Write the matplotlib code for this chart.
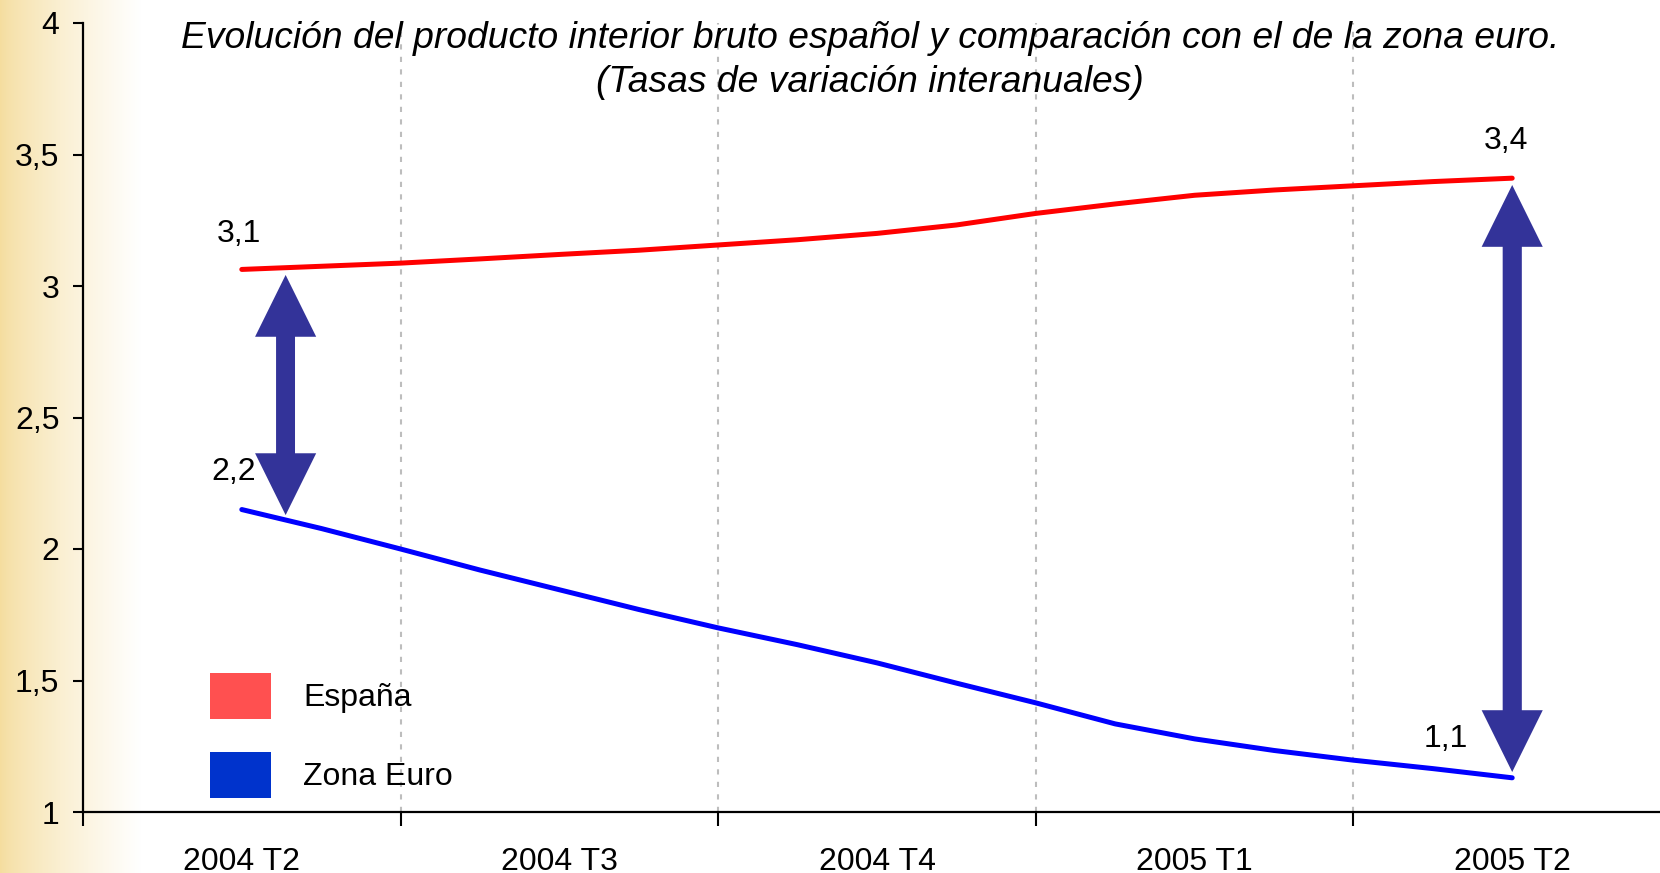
import numpy as np
import matplotlib
matplotlib.use("Agg")
import matplotlib.pyplot as plt
from matplotlib.patches import Patch

# ---------------- data ----------------
categories = ["2004 T2", "2004 T3", "2004 T4", "2005 T1", "2005 T2"]
# readings every quarter of a category step
x_pos = [0, 0.25, 0.5, 0.75, 1.0, 1.25, 1.5, 1.75, 2.0, 2.25, 2.5, 2.75, 3.0, 3.25, 3.5, 3.75, 4.0]
espana = [3.063, 3.075, 3.087, 3.103, 3.12, 3.136, 3.156, 3.176, 3.20, 3.232, 3.276, 3.312,
          3.345, 3.365, 3.381, 3.397, 3.41]
zona_euro = [2.150, 2.078, 2.0, 1.92, 1.845, 1.77, 1.70, 1.636, 1.567, 1.49, 1.415, 1.335,
             1.278, 1.234, 1.197, 1.165, 1.13]
y_ticks = [1, 1.5, 2, 2.5, 3, 3.5, 4]
y_tick_labels = ["1", "1,5", "2", "2,5", "3", "3,5", "4"]
value_labels = ["3,1", "2,2", "3,4", "1,1"]
value_label_pos = [(-0.01, 3.197), (-0.025, 2.292), (3.98, 3.551), (3.79, 1.277)]
# arrows: (x, y_top_tip, y_bottom_tip)
arrows = [(0.138, 3.042, 2.129), (4.0, 3.384, 1.152)]
title1 = "Evolución del producto interior bruto español y comparación con el de la zona euro."
title2 = "(Tasas de variación interanuales)"

plt.rcParams['font.family'] = ['Liberation Sans', 'DejaVu Sans']

W, H = 1660, 873
FS = 23
fig = plt.figure(figsize=(W / 100, H / 100), dpi=100)
fig.patch.set_facecolor("white")

# background gradient on the left edge
bg = fig.add_axes([0, 0, 1, 1], zorder=-10)
bg.set_axis_off()
xs = np.arange(W)
t = np.clip(xs / 140.0, 0, 1) ** 0.75
gold = np.array([245, 221, 158]) / 255.0
white = np.array([1.0, 1.0, 1.0])
row = gold[None, :] * (1 - t[:, None]) + white[None, :] * t[:, None]
img = np.repeat(row[None, :, :], 2, axis=0)
bg.imshow(img, aspect="auto", extent=[0, 1, 0, 1])
bg.set_xlim(0, 1)
bg.set_ylim(0, 1)

ax = fig.add_axes([83 / W, 61 / H, 1588 / W, 789 / H])
ax.set_facecolor("none")

ax.plot(x_pos, espana, color="#FF0000", lw=3.6, solid_capstyle="round", zorder=3)
ax.plot(x_pos, zona_euro, color="#0000FF", lw=3.6, solid_capstyle="round", zorder=3)

ax.set_xlim(-0.5, len(categories) - 0.5)
ax.set_ylim(1, 4)

# ticks
bounds = np.arange(-0.5, len(categories), 1.0)
ax.set_xticks(bounds)
ax.set_xticklabels([])
ax.set_xticks(np.arange(len(categories)), minor=True)
ax.set_xticklabels(categories, minor=True, fontsize=FS)
ax.tick_params(axis="x", which="major", length=10, width=1.5, direction="out")
ax.tick_params(axis="x", which="minor", length=0, pad=25)
ax.set_yticks(y_ticks)
ax.set_yticklabels(y_tick_labels, fontsize=FS)
ax.tick_params(axis="y", length=7.5, width=1.5, pad=9.5)

for s in ["top", "right"]:
    ax.spines[s].set_visible(False)
for s in ["left", "bottom"]:
    ax.spines[s].set_linewidth(1.6)
ax.spines["bottom"].set_zorder(4)

# vertical dotted gridlines
for b in bounds[1:]:
    ax.axvline(b, color="#BDBDBD", lw=1.5, ls=(0, (2.5, 3.5)), zorder=1)

# arrows: two overlapping single-headed arrows; each tail starts inside
# the other arrow's head so no seam is visible
style = "simple,head_length=44.5,head_width=44,tail_width=13.5"
inset = 0.20  # data units, slightly less than the head length
for (xa, ytop, ybot) in arrows:
    for tip, start in ((ytop, ybot + inset), (ybot, ytop - inset)):
        ax.annotate("", xy=(xa, tip), xytext=(xa, start),
                    arrowprops=dict(arrowstyle=style, mutation_scale=1,
                                    color="#333399", lw=0, shrinkA=0, shrinkB=0),
                    zorder=5)

# value labels
for lab, (xl, yl) in zip(value_labels, value_label_pos):
    ax.text(xl, yl, lab, fontsize=FS, ha="center", va="center", zorder=6)

# legend
handles = [Patch(facecolor="#FF5050", edgecolor="none"),
           Patch(facecolor="#0033CC", edgecolor="none")]
leg = ax.legend(handles, ["España", "Zona Euro"], loc="lower left",
                bbox_to_anchor=((210 - 83) / 1588, (812 - 798) / 789),
                frameon=False, fontsize=FS, handlelength=1.91, handleheight=1.84,
                handletextpad=1.0, labelspacing=1.03, borderpad=0, borderaxespad=0)

# title
fig.text(870 / W, 1 - 38 / H, title1, fontsize=26.8, style="italic", ha="center", va="center")
fig.text(870 / W, 1 - 82 / H, title2, fontsize=26.8, style="italic", ha="center", va="center")

fig.savefig("out.png", dpi=100)
